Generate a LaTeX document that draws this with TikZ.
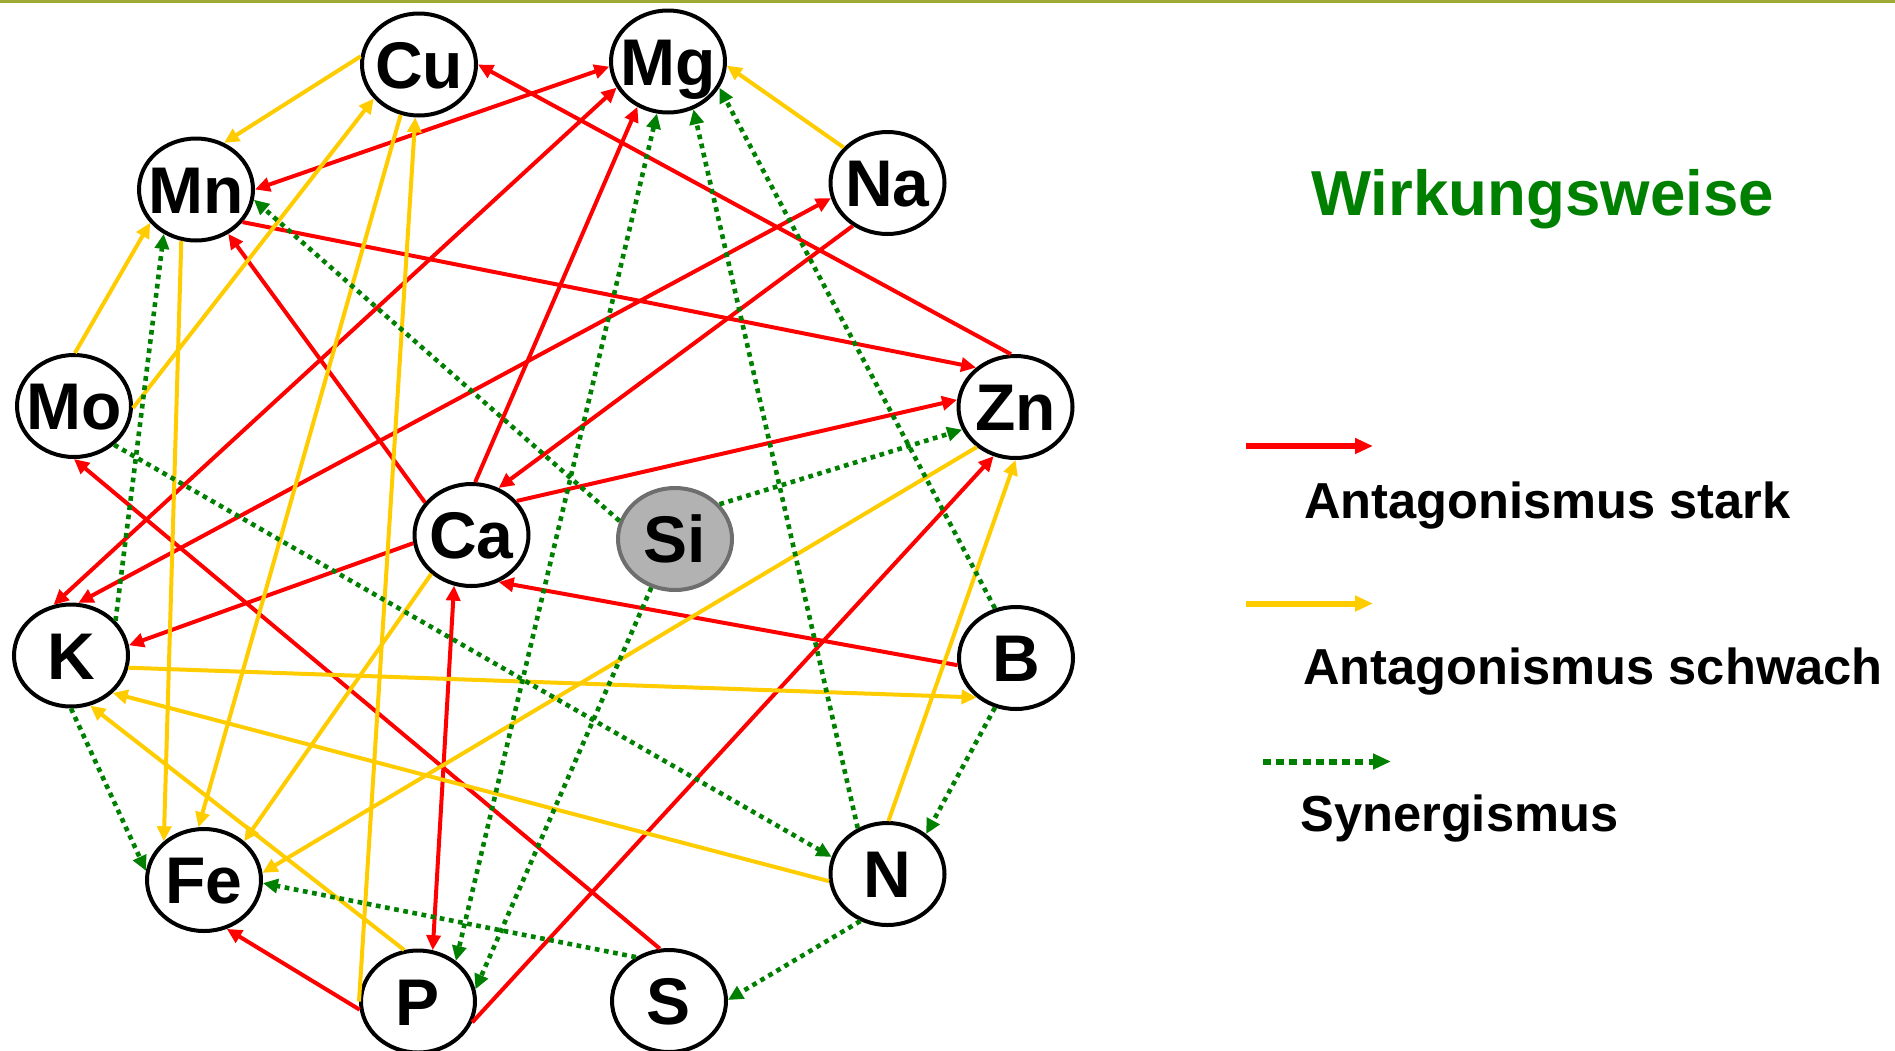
\documentclass[tikz,border=0pt]{standalone}
\usepackage{fontspec}
\setmainfont{Liberation Sans}
\usetikzlibrary{shapes.geometric,arrows.meta}
\definecolor{cred}{RGB}{255,0,0}
\definecolor{cyel}{RGB}{255,204,0}
\definecolor{cgreen}{RGB}{0,128,0}
\definecolor{colive}{RGB}{158,170,52}
\definecolor{sifill}{RGB}{178,178,178}
\definecolor{siedge}{RGB}{110,110,110}
\newcommand{\elt}[1]{\makebox[0pt][c]{#1}}
\begin{document}
\begin{tikzpicture}[x=0.5pt,y=-0.5pt,
  elem/.style={ellipse, draw=black, line width=2pt, fill=white,
    minimum width=57pt, minimum height=51pt, inner sep=0pt,
    text height=23.6pt, text depth=0pt,
    font=\fontsize{33}{33}\selectfont\bfseries},
  sielem/.style={elem, fill=sifill, draw=siedge, line width=2pt},
  tip/.style={-{Triangle[length=7.5pt,width=7pt]}},
  both/.style={{Triangle[length=7.5pt,width=7pt]}-{Triangle[length=7.5pt,width=7pt]}},
  strong/.style={draw=cred, line width=2pt},
  weak/.style={draw=cyel, line width=2pt},
  syn/.style={draw=cgreen, line width=2.3pt, dash pattern=on 2.35pt off 2.3pt},
  legtext/.style={anchor=base west, inner sep=0pt, font=\fontsize{25.3}{26}\selectfont\bfseries},
]
\useasboundingbox (0,0) rectangle (1895,1050);
\fill[white] (0,0) rectangle (1895,1050);
\draw[colive, line width=1.4pt] (0,1.4) -- (1895,1.4);

% elements
\node[elem] (Cu) at (419,64.5) {\elt{Cu}};
\node[elem] (Mg) at (668,61.5) {\elt{Mg}};
\node[elem] (Mn) at (196,189.5) {\elt{Mn}};
\node[elem] (Na) at (887.5,183) {\elt{Na}};
\node[elem] (Mo) at (74,406) {\elt{Mo}};
\node[elem] (Zn) at (1015.5,407) {\elt{Zn}};
\node[elem] (Ca) at (471.5,535) {\elt{Ca}};
\node[sielem] (Si) at (675,539) {\elt{Si}};
\node[elem] (K) at (71,655.5) {\elt{K}};
\node[elem] (B) at (1016,658) {\elt{B}};
\node[elem] (Fe) at (204,880) {\elt{Fe}};
\node[elem] (N) at (887.5,874) {\elt{N}};
\node[elem] (P) at (418,1001.5) {\elt{P}};
\node[elem] (S) at (669,1001) {\elt{S}};

% strong antagonism
\draw[strong,both] (Mn.0) -- (Mg.185);
\draw[strong,tip] (Zn.95) -- (Cu.0);
\draw[strong,tip] (Mn.-35) -- (Zn.135);
\draw[strong,both] (K.109) -- (Mg.207);
\draw[strong,both] (K.82) -- (Na.195);
\draw[strong,tip] (Ca.145) -- (Mn.-54);
\draw[strong,tip] (Ca.86) -- (Mg.236);
\draw[strong,tip] (Na.231) -- (Ca.60);
\draw[strong,tip] (Ca.37) -- (Zn.173);
\draw[strong,tip] (Ca.188) -- (K.10);
\draw[strong,tip] (S.100) -- (Mo.-90);
\draw[strong,tip] (B.187) -- (Ca.-60);
\draw[strong,both] (Ca.251) -- (P.74);
\draw[strong,tip] (P.188) -- (Fe.-65);
\draw[strong,tip] (P.-21) -- (Zn.246);

% weak antagonism
\draw[weak,tip] (Cu.172) -- (Mn.59);
\draw[weak,tip] (Mo.-2) -- (Cu.217);
\draw[weak,tip] (Mo.89) -- (Mn.216);
\draw[weak,tip] (Na.141) -- (Mg.-4);
\draw[weak,tip] (Mn.254) -- (Fe.136);
\draw[weak,tip] (Cu.250) -- (Fe.96);
\draw[weak,tip] (P.180) -- (Cu.266);
\draw[weak,tip] (Ca.224) -- (Fe.44);
\draw[weak,tip] (Zn.226) -- (Fe.7);
\draw[weak,tip] (K.-12) -- (B.225);
\draw[weak,tip] (N.187) -- (K.-42);
\draw[weak,tip] (P.105) -- (K.-69);
\draw[weak,tip] (N.89) -- (Zn.-90);

% synergism
\draw[syn,tip] (Si.162) -- (Mn.-10);
\draw[syn,tip] (K.38) -- (Mn.234);
\draw[syn,tip] (Mo.-44) -- (N.163);
\draw[syn,tip] (Si.38) -- (Zn.203);
\draw[syn,both] (Mg.258) -- (P.47);
\draw[syn,tip] (Si.244) -- (P.12);
\draw[syn,tip] (N.123) -- (Mg.-62);
\draw[syn,tip] (B.113) -- (Mg.-27);
\draw[syn,tip] (K.-90) -- (Fe.171);
\draw[syn,tip] (S.127) -- (Fe.-3);
\draw[syn,tip] (B.-113) -- (N.46);
\draw[syn,tip] (N.-120) -- (S.1);

% legend
\node[anchor=base west, inner sep=0pt, text=cgreen,
  font=\fontsize{31.8}{32}\selectfont\bfseries] (title) at (1311,215) {Wirkungsweise};
\coordinate (r1) at (1246,446);
\coordinate (r2) at (1373,446);
\coordinate (y1) at (1246,603.5);
\coordinate (y2) at (1373,603.5);
\coordinate (g1) at (1263,761.5);
\coordinate (g2) at (1391,761.5);
\draw[cred, line width=3pt, -{Triangle[length=9pt,width=7.5pt]}] (r1) -- (r2);
\draw[cyel, line width=3pt, -{Triangle[length=9pt,width=7.5pt]}] (y1) -- (y2);
\draw[cgreen, line width=3pt, dash pattern=on 4pt off 2.6pt, -{Triangle[length=9pt,width=7.5pt]}] (g1) -- (g2);
\node[legtext] (l1) at (1304,518) {Antagonismus stark};
\node[legtext] (l2) at (1303,684) {Antagonismus schwach};
\node[legtext] (l3) at (1300,831) {Synergismus};
\end{tikzpicture}
\end{document}
